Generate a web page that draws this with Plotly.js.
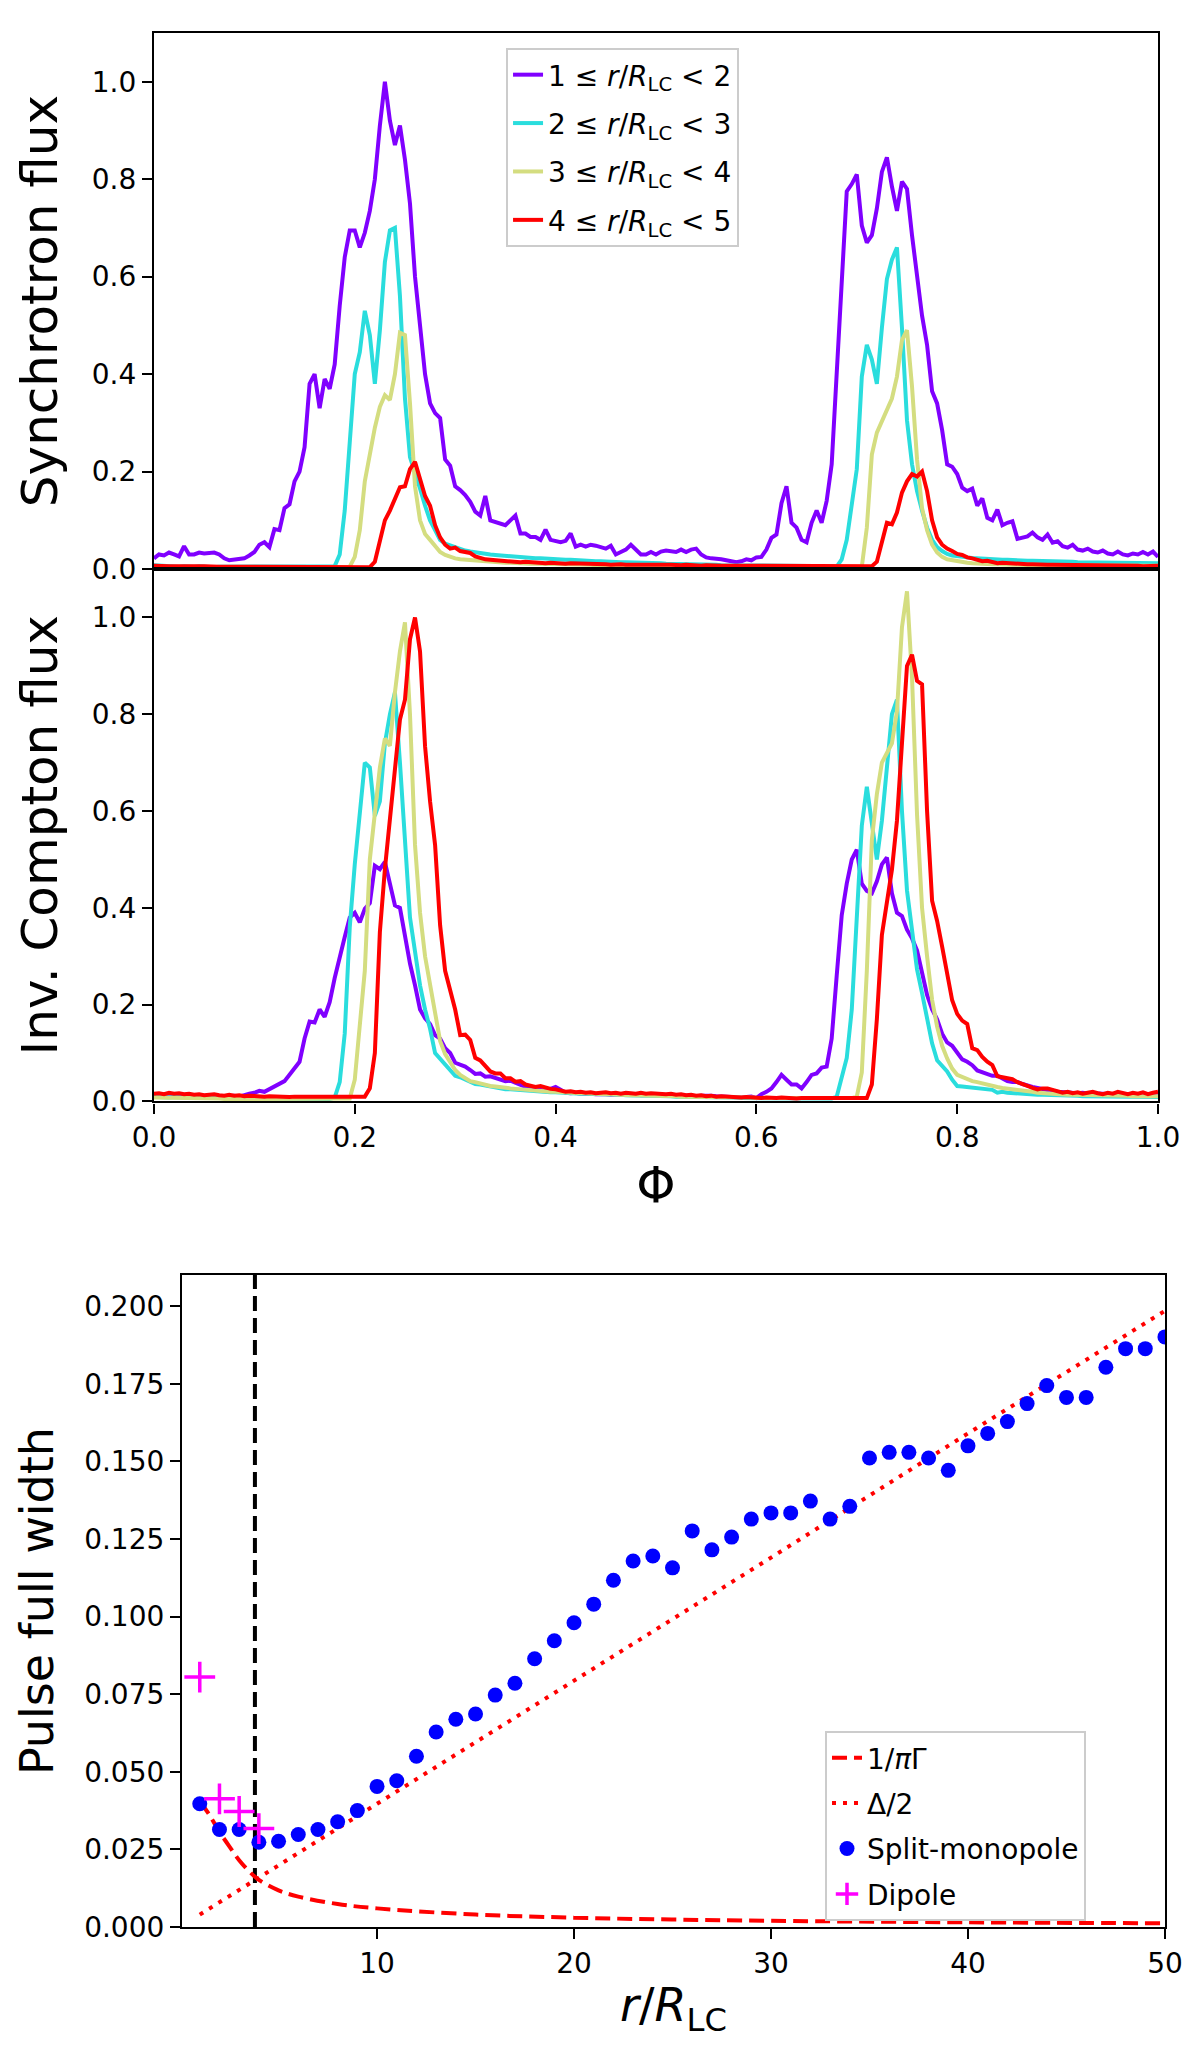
<!DOCTYPE html>
<html>
<head>
<meta charset="utf-8">
<script src="https://cdn.plot.ly/plotly-3.0.1.min.js"></script>
<style>
  html, body { margin: 0; padding: 0; background: #fff; }
  #chart { width: 1200px; height: 2050px; }
</style>
</head>
<body>
<div id="chart"></div>
<script>
// pulse profiles, sampled every 0.005 in phase (0 .. 1)
const PHASE_STEP = 0.005;

// synchrotron flux, one array per radial shell
const syncR1 = [
  0.022,0.03,0.028,0.034,0.03,0.026,0.047,0.03,0.03,0.034,0.032,0.034,0.034,0.03,0.022,0.018,0.02,0.02,0.022,0.028,
  0.035,0.05,0.055,0.045,0.082,0.08,0.125,0.133,0.18,0.2,0.25,0.38,0.40,0.33,0.39,0.37,0.42,0.54,0.64,0.695,
  0.695,0.66,0.69,0.735,0.80,0.91,1.0,0.92,0.87,0.91,0.84,0.75,0.60,0.50,0.40,0.34,0.32,0.31,0.225,0.212,
  0.17,0.162,0.152,0.138,0.118,0.11,0.15,0.1,0.097,0.092,0.09,0.1,0.11,0.073,0.073,0.066,0.066,0.06,0.081,0.06,
  0.058,0.055,0.058,0.073,0.046,0.05,0.046,0.05,0.048,0.045,0.042,0.048,0.03,0.035,0.04,0.05,0.04,0.03,0.03,0.035,
  0.03,0.036,0.038,0.036,0.035,0.04,0.035,0.04,0.042,0.03,0.024,0.022,0.022,0.02,0.018,0.015,0.014,0.016,0.02,0.018,
  0.024,0.025,0.04,0.064,0.071,0.135,0.17,0.095,0.085,0.06,0.055,0.095,0.12,0.095,0.14,0.215,0.405,0.615,0.775,0.79,
  0.81,0.705,0.67,0.685,0.74,0.815,0.845,0.785,0.735,0.795,0.78,0.685,0.595,0.52,0.46,0.365,0.34,0.285,0.215,0.21,
  0.195,0.167,0.16,0.165,0.13,0.145,0.105,0.1,0.122,0.09,0.095,0.098,0.062,0.065,0.067,0.075,0.065,0.06,0.071,0.054,
  0.057,0.047,0.044,0.05,0.04,0.038,0.042,0.036,0.034,0.038,0.032,0.03,0.036,0.03,0.028,0.032,0.03,0.035,0.03,0.036,
  0.025
];
const syncR2 = [
  0.008,0.007,0.006,0.007,0.006,0.005,0.006,0.005,0.005,0.006,0.005,0.005,0.004,0.005,0.005,0.004,0.005,0.004,0.005,0.004,
  0.004,0.005,0.004,0.004,0.005,0.004,0.004,0.005,0.004,0.004,0.005,0.004,0.004,0.005,0.004,0.005,0.006,0.03,0.12,0.26,
  0.40,0.445,0.53,0.48,0.38,0.49,0.63,0.695,0.70,0.56,0.35,0.23,0.20,0.165,0.13,0.1,0.08,0.06,0.052,0.048,
  0.044,0.04,0.038,0.036,0.034,0.032,0.031,0.03,0.029,0.028,0.026,0.025,0.025,0.024,0.023,0.023,0.022,0.022,0.021,0.02,
  0.02,0.02,0.019,0.019,0.018,0.018,0.017,0.017,0.016,0.016,0.015,0.015,0.015,0.014,0.014,0.014,0.013,0.013,0.013,0.012,
  0.012,0.012,0.011,0.011,0.011,0.01,0.01,0.01,0.01,0.009,0.009,0.009,0.009,0.008,0.008,0.008,0.008,0.008,0.007,0.007,
  0.007,0.007,0.007,0.006,0.006,0.006,0.006,0.006,0.006,0.006,0.006,0.006,0.006,0.006,0.006,0.006,0.005,0.02,0.06,0.13,
  0.205,0.395,0.46,0.43,0.38,0.495,0.595,0.635,0.66,0.495,0.305,0.215,0.16,0.12,0.085,0.06,0.045,0.037,0.031,0.028,
  0.026,0.025,0.024,0.023,0.022,0.021,0.021,0.02,0.02,0.019,0.019,0.018,0.018,0.018,0.017,0.017,0.017,0.016,0.016,0.016,
  0.015,0.015,0.015,0.015,0.014,0.014,0.014,0.014,0.014,0.013,0.013,0.013,0.013,0.013,0.013,0.012,0.012,0.012,0.012,0.012,
  0.012
];
const syncR3 = [
  0.004,0.004,0.003,0.004,0.003,0.003,0.004,0.003,0.003,0.003,0.003,0.003,0.003,0.003,0.003,0.003,0.003,0.003,0.003,0.003,
  0.003,0.003,0.003,0.003,0.003,0.003,0.003,0.003,0.003,0.003,0.003,0.003,0.003,0.003,0.003,0.003,0.003,0.003,0.003,0.005,
  0.025,0.08,0.18,0.237,0.29,0.333,0.357,0.347,0.40,0.485,0.48,0.34,0.17,0.1,0.072,0.06,0.047,0.035,0.029,0.025,
  0.022,0.02,0.019,0.018,0.017,0.016,0.015,0.015,0.014,0.014,0.013,0.013,0.012,0.012,0.012,0.011,0.011,0.011,0.01,0.01,
  0.01,0.01,0.01,0.009,0.009,0.009,0.009,0.009,0.008,0.008,0.008,0.008,0.008,0.008,0.007,0.007,0.007,0.007,0.007,0.007,
  0.007,0.007,0.006,0.006,0.006,0.006,0.006,0.006,0.006,0.006,0.005,0.005,0.005,0.005,0.005,0.005,0.005,0.005,0.005,0.005,
  0.005,0.005,0.005,0.005,0.004,0.004,0.004,0.004,0.004,0.004,0.004,0.004,0.004,0.004,0.004,0.004,0.004,0.004,0.004,0.004,
  0.004,0.005,0.085,0.235,0.28,0.305,0.33,0.35,0.395,0.47,0.49,0.375,0.225,0.125,0.08,0.05,0.034,0.025,0.02,0.018,
  0.015,0.014,0.013,0.012,0.011,0.011,0.01,0.01,0.01,0.009,0.009,0.009,0.009,0.008,0.008,0.008,0.008,0.008,0.008,0.007,
  0.007,0.007,0.007,0.007,0.007,0.007,0.007,0.007,0.007,0.007,0.007,0.007,0.007,0.007,0.007,0.007,0.007,0.007,0.007,0.007,
  0.007
];
const syncR4 = [
  0.007,0.006,0.007,0.006,0.006,0.007,0.006,0.006,0.005,0.006,0.006,0.005,0.006,0.005,0.005,0.006,0.005,0.005,0.005,0.005,
  0.005,0.004,0.005,0.004,0.004,0.005,0.004,0.004,0.004,0.004,0.004,0.004,0.004,0.004,0.004,0.004,0.004,0.004,0.004,0.004,
  0.004,0.004,0.004,0.004,0.015,0.06,0.1,0.12,0.145,0.168,0.17,0.205,0.22,0.185,0.15,0.13,0.09,0.065,0.05,0.042,
  0.044,0.037,0.035,0.033,0.026,0.022,0.02,0.019,0.018,0.017,0.016,0.015,0.016,0.014,0.015,0.014,0.013,0.014,0.012,0.013,
  0.012,0.013,0.011,0.012,0.012,0.011,0.01,0.011,0.01,0.011,0.01,0.009,0.01,0.01,0.009,0.01,0.009,0.009,0.01,0.009,
  0.009,0.008,0.009,0.009,0.008,0.008,0.009,0.008,0.008,0.007,0.008,0.007,0.008,0.007,0.007,0.007,0.006,0.007,0.006,0.006,
  0.006,0.006,0.006,0.005,0.006,0.005,0.005,0.005,0.005,0.005,0.005,0.005,0.005,0.005,0.005,0.005,0.005,0.005,0.005,0.005,
  0.005,0.005,0.005,0.006,0.015,0.055,0.095,0.092,0.116,0.157,0.18,0.195,0.19,0.2,0.16,0.1,0.065,0.05,0.042,0.037,
  0.031,0.029,0.024,0.022,0.02,0.016,0.017,0.015,0.012,0.013,0.012,0.011,0.01,0.011,0.01,0.01,0.009,0.01,0.009,0.009,
  0.009,0.008,0.009,0.008,0.008,0.009,0.008,0.008,0.007,0.008,0.007,0.008,0.007,0.007,0.008,0.007,0.007,0.006,0.007,0.007,
  0.007
];

// inverse Compton flux
const icR1 = [
  0.012,0.014,0.012,0.013,0.011,0.012,0.01,0.011,0.012,0.01,0.011,0.01,0.012,0.01,0.011,0.01,0.012,0.01,0.014,0.016,
  0.018,0.022,0.02,0.025,0.03,0.036,0.042,0.055,0.07,0.082,0.13,0.165,0.163,0.19,0.175,0.205,0.255,0.30,0.34,0.38,
  0.39,0.37,0.398,0.41,0.487,0.48,0.495,0.45,0.405,0.40,0.34,0.285,0.24,0.19,0.172,0.16,0.137,0.13,0.11,0.10,
  0.08,0.076,0.072,0.065,0.057,0.058,0.051,0.052,0.048,0.045,0.042,0.043,0.038,0.034,0.03,0.027,0.025,0.024,0.022,0.026,
  0.03,0.024,0.018,0.017,0.018,0.016,0.017,0.016,0.015,0.016,0.015,0.014,0.015,0.014,0.015,0.014,0.015,0.013,0.014,0.014,
  0.014,0.013,0.014,0.013,0.013,0.012,0.013,0.012,0.011,0.012,0.013,0.012,0.011,0.01,0.01,0.009,0.008,0.008,0.009,0.01,
  0.007,0.015,0.02,0.027,0.04,0.055,0.045,0.035,0.035,0.027,0.04,0.055,0.058,0.07,0.072,0.13,0.26,0.385,0.45,0.50,
  0.52,0.45,0.435,0.43,0.455,0.49,0.504,0.43,0.39,0.383,0.355,0.337,0.312,0.263,0.22,0.19,0.17,0.14,0.122,0.115,
  0.1,0.087,0.082,0.075,0.064,0.06,0.055,0.053,0.053,0.048,0.042,0.04,0.04,0.036,0.032,0.03,0.028,0.025,0.022,0.021,
  0.02,0.019,0.02,0.018,0.017,0.018,0.016,0.017,0.016,0.015,0.016,0.015,0.016,0.014,0.015,0.016,0.014,0.015,0.014,0.015,
  0.014
];
const icR2 = [
  0.01,0.009,0.009,0.008,0.009,0.008,0.008,0.008,0.007,0.008,0.007,0.007,0.008,0.007,0.007,0.007,0.006,0.007,0.006,0.006,
  0.006,0.006,0.006,0.006,0.005,0.006,0.005,0.005,0.005,0.005,0.005,0.005,0.005,0.005,0.005,0.005,0.008,0.04,0.14,0.36,
  0.49,0.60,0.70,0.69,0.59,0.62,0.74,0.80,0.845,0.70,0.53,0.38,0.31,0.24,0.19,0.15,0.10,0.088,0.075,0.065,
  0.053,0.05,0.045,0.041,0.036,0.035,0.033,0.031,0.028,0.027,0.025,0.025,0.024,0.023,0.022,0.022,0.021,0.02,0.02,0.019,
  0.019,0.018,0.018,0.017,0.017,0.016,0.016,0.016,0.015,0.015,0.015,0.014,0.014,0.014,0.013,0.013,0.013,0.012,0.012,0.012,
  0.012,0.011,0.011,0.011,0.01,0.01,0.01,0.01,0.009,0.009,0.009,0.009,0.008,0.008,0.008,0.008,0.008,0.007,0.007,0.007,
  0.007,0.007,0.007,0.007,0.006,0.006,0.006,0.006,0.006,0.006,0.006,0.006,0.006,0.006,0.006,0.006,0.01,0.05,0.09,0.19,
  0.38,0.57,0.65,0.58,0.50,0.58,0.70,0.80,0.83,0.60,0.436,0.36,0.273,0.224,0.174,0.12,0.085,0.072,0.062,0.045,
  0.032,0.031,0.03,0.029,0.028,0.027,0.025,0.024,0.018,0.02,0.018,0.017,0.016,0.016,0.015,0.015,0.014,0.014,0.014,0.013,
  0.013,0.013,0.012,0.012,0.012,0.011,0.011,0.011,0.011,0.01,0.01,0.01,0.01,0.01,0.01,0.009,0.009,0.009,0.009,0.009,
  0.009
];
const icR3 = [
  0.008,0.008,0.007,0.008,0.007,0.007,0.007,0.006,0.007,0.006,0.006,0.006,0.006,0.006,0.005,0.006,0.005,0.005,0.005,0.005,
  0.005,0.005,0.005,0.005,0.005,0.005,0.005,0.005,0.005,0.005,0.005,0.005,0.005,0.005,0.005,0.005,0.005,0.005,0.005,0.006,
  0.045,0.15,0.27,0.50,0.60,0.69,0.75,0.735,0.845,0.93,0.99,0.80,0.53,0.39,0.30,0.245,0.18,0.125,0.098,0.08,
  0.065,0.055,0.048,0.042,0.04,0.037,0.034,0.032,0.031,0.029,0.028,0.027,0.026,0.025,0.024,0.023,0.022,0.021,0.021,0.02,
  0.02,0.019,0.019,0.018,0.018,0.017,0.017,0.016,0.016,0.015,0.015,0.015,0.014,0.014,0.014,0.013,0.013,0.013,0.012,0.012,
  0.012,0.012,0.011,0.011,0.011,0.01,0.01,0.01,0.01,0.01,0.009,0.009,0.009,0.009,0.008,0.008,0.008,0.008,0.008,0.008,
  0.007,0.007,0.007,0.007,0.007,0.007,0.007,0.007,0.007,0.007,0.007,0.007,0.007,0.007,0.007,0.007,0.007,0.007,0.007,0.007,
  0.01,0.06,0.27,0.54,0.635,0.70,0.72,0.74,0.806,0.98,1.054,0.877,0.593,0.40,0.30,0.21,0.155,0.115,0.089,0.068,
  0.055,0.05,0.045,0.042,0.04,0.037,0.034,0.032,0.03,0.028,0.027,0.026,0.024,0.022,0.021,0.02,0.018,0.017,0.016,0.016,
  0.015,0.015,0.014,0.014,0.014,0.013,0.013,0.013,0.013,0.012,0.012,0.012,0.012,0.012,0.012,0.011,0.011,0.011,0.011,0.011,
  0.011
];
const icR4 = [
  0.016,0.017,0.015,0.018,0.016,0.017,0.015,0.016,0.014,0.015,0.013,0.014,0.015,0.013,0.012,0.014,0.012,0.013,0.011,0.012,
  0.011,0.012,0.01,0.011,0.01,0.011,0.01,0.009,0.01,0.01,0.009,0.01,0.01,0.009,0.01,0.009,0.01,0.009,0.009,0.009,
  0.009,0.009,0.01,0.027,0.10,0.35,0.48,0.583,0.69,0.789,0.83,0.955,1.0,0.93,0.734,0.62,0.53,0.364,0.27,0.23,
  0.19,0.137,0.138,0.127,0.09,0.085,0.072,0.062,0.058,0.058,0.048,0.048,0.041,0.042,0.035,0.033,0.03,0.032,0.028,0.026,
  0.025,0.022,0.02,0.021,0.019,0.02,0.018,0.019,0.017,0.018,0.019,0.017,0.018,0.016,0.018,0.017,0.016,0.018,0.016,0.017,
  0.016,0.017,0.015,0.016,0.014,0.015,0.013,0.014,0.012,0.013,0.011,0.012,0.01,0.011,0.01,0.009,0.01,0.008,0.009,0.008,
  0.008,0.007,0.008,0.007,0.007,0.008,0.007,0.007,0.006,0.007,0.007,0.006,0.007,0.006,0.007,0.006,0.007,0.006,0.006,0.007,
  0.007,0.007,0.007,0.035,0.17,0.344,0.41,0.479,0.58,0.75,0.90,0.923,0.869,0.862,0.60,0.415,0.373,0.32,0.26,0.209,
  0.181,0.167,0.16,0.11,0.106,0.092,0.082,0.075,0.052,0.05,0.05,0.046,0.04,0.035,0.032,0.028,0.025,0.027,0.027,0.024,
  0.021,0.018,0.02,0.017,0.019,0.016,0.018,0.02,0.017,0.015,0.018,0.016,0.02,0.017,0.015,0.018,0.016,0.019,0.015,0.018,
  0.02
];

const shellLabels = [
  '1 ≤ <i>r</i>/<i>R</i><sub>LC</sub> &lt; 2',
  '2 ≤ <i>r</i>/<i>R</i><sub>LC</sub> &lt; 3',
  '3 ≤ <i>r</i>/<i>R</i><sub>LC</sub> &lt; 4',
  '4 ≤ <i>r</i>/<i>R</i><sub>LC</sub> &lt; 5'
];
const shellColors = ['#8000ff', '#2adddd', '#d4dd80', '#ff0000'];

// pulse width vs radius
const radius = [1,2,3,4,5,6,7,8,9,10,11,12,13,14,15,16,17,18,19,20,21,22,23,24,25,
  26,27,28,29,30,31,32,33,34,35,36,37,38,39,40,41,42,43,44,45,46,47,48,49,50];
const widthSplit = [0.0397,0.0314,0.0314,0.0273,0.0276,0.0298,0.0314,0.0339,0.0375,0.0453,
  0.0471,0.055,0.0628,0.0669,0.0686,0.0747,0.0785,0.0864,0.0922,0.098,
  0.104,0.1117,0.1179,0.1195,0.1157,0.1276,0.1215,0.1256,0.1314,0.1334,
  0.1334,0.1372,0.1314,0.1355,0.1511,0.1529,0.1529,0.1511,0.1471,0.155,
  0.159,0.1628,0.1686,0.1744,0.1706,0.1706,0.1803,0.1863,0.1863,0.1901];
const dipoleR = [1, 2, 3, 4];
const widthDipole = [0.0805, 0.0413, 0.0372, 0.0317];
const gammaR = [1,1.5,2,2.5,3,3.5,4,5,6,8,10,15,20,25,30,40,50];
const widthGamma = [0.0405,0.036,0.0306,0.026,0.0215,0.018,0.0152,0.0118,0.0098,0.0074,
  0.006,0.004,0.003,0.0024,0.002,0.0015,0.0012];
const deltaR = [1, 10, 20, 30, 40, 50];
const widthDelta = [0.004, 0.0397, 0.079, 0.119, 0.159, 0.1985];
const lightCylinderMark = 3.8;

const phase = syncR1.map((_, i) => i * PHASE_STEP);

const FONT = 'DejaVu Sans, sans-serif';
const tickFont = { family: FONT, size: 28, color: '#000' };

function frame(extra) {
  return Object.assign({
    showline: true, mirror: true, linecolor: '#000', linewidth: 2.2,
    ticks: 'outside', ticklen: 10, tickwidth: 2.2, tickcolor: '#000',
    showgrid: false, zeroline: false, tickfont: tickFont, automargin: false
  }, extra);
}

const traces = [];
[syncR1, syncR2, syncR3, syncR4].forEach((ys, k) => {
  traces.push({
    x: phase, y: ys, xaxis: 'x', yaxis: 'y', type: 'scatter', mode: 'lines',
    name: shellLabels[k], legendgroup: 'g' + k,
    line: { color: shellColors[k], width: 4 }
  });
});
[icR1, icR2, icR3, icR4].forEach((ys, k) => {
  traces.push({
    x: phase, y: ys, xaxis: 'x2', yaxis: 'y2', type: 'scatter', mode: 'lines',
    showlegend: false, line: { color: shellColors[k], width: 4 }
  });
});

traces.push({
  x: [lightCylinderMark, lightCylinderMark], y: [0, 0.21], xaxis: 'x3', yaxis: 'y3',
  mode: 'lines', showlegend: false, line: { color: '#000', width: 4, dash: '15px,7px' }
});
traces.push({
  x: gammaR, y: widthGamma, xaxis: 'x3', yaxis: 'y3', mode: 'lines', name: '1/<i>π</i>Γ',
  legend: 'legend2', legendgroup: 'b0',
  line: { color: '#ff0000', width: 4, dash: '15px,7px', shape: 'spline' }
});
traces.push({
  x: deltaR, y: widthDelta, xaxis: 'x3', yaxis: 'y3', mode: 'lines', name: 'Δ/2',
  legend: 'legend2', legendgroup: 'b1',
  line: { color: '#ff0000', width: 4, dash: '4px,7px' }
});
traces.push({
  x: radius, y: widthSplit, xaxis: 'x3', yaxis: 'y3', mode: 'markers', name: 'Split-monopole',
  legend: 'legend2', legendgroup: 'b2',
  marker: { color: '#0000ff', size: 15 }
});
traces.push({
  x: dipoleR, y: widthDipole, xaxis: 'x3', yaxis: 'y3', mode: 'markers', name: 'Dipole',
  legend: 'legend2', legendgroup: 'b3',
  marker: { color: '#ff00ff', size: 22, symbol: 'cross-thin', line: { color: '#ff00ff', width: 3.5 } }
});

const layout = {
  width: 1200, height: 2050,
  margin: { l: 0, r: 0, t: 0, b: 0 },
  paper_bgcolor: '#fff', plot_bgcolor: '#fff',
  font: { family: FONT, color: '#000' },
  xaxis: frame({ domain: [0.1283, 0.965], anchor: 'y', range: [0, 1], showticklabels: false, ticks: '' }),
  yaxis: frame({
    domain: [0.7224, 0.9839], anchor: 'x', range: [0, 1.1],
    tickvals: [0, 0.2, 0.4, 0.6, 0.8, 1.0], tickformat: '.1f',
    title: { text: 'Synchrotron flux', font: { family: FONT, size: 50, color: '#000' }, standoff: 18 }
  }),
  xaxis2: frame({
    domain: [0.1283, 0.965], anchor: 'y2', range: [0, 1],
    tickvals: [0, 0.2, 0.4, 0.6, 0.8, 1.0], tickformat: '.1f',
    title: { text: 'Φ', font: { family: FONT, size: 50, color: '#000' }, standoff: 14 }
  }),
  yaxis2: frame({
    domain: [0.4627, 0.7224], anchor: 'x2', range: [0, 1.1],
    tickvals: [0, 0.2, 0.4, 0.6, 0.8, 1.0], tickformat: '.1f',
    title: { text: 'Inv. Compton flux', font: { family: FONT, size: 50, color: '#000' }, standoff: 18 }
  }),
  xaxis3: frame({
    domain: [0.1517, 0.9708], anchor: 'y3', range: [0.1, 50],
    tickvals: [10, 20, 30, 40, 50],
    title: { text: '<i>r</i>/<i>R</i><sub>LC</sub>', font: { family: FONT, size: 46, color: '#000' }, standoff: 10 }
  }),
  yaxis3: frame({
    domain: [0.06, 0.378], anchor: 'x3', range: [0, 0.21],
    tickvals: [0, 0.025, 0.05, 0.075, 0.1, 0.125, 0.15, 0.175, 0.2], tickformat: '.3f',
    title: { text: 'Pulse full width', font: { family: FONT, size: 46, color: '#000' }, standoff: 16 }
  }),
  legend: {
    x: 0.4217, y: 0.9766, xanchor: 'left', yanchor: 'top',
    bgcolor: 'rgba(255,255,255,0.85)', bordercolor: '#cccccc', borderwidth: 2,
    font: { family: FONT, size: 28, color: '#000' }, tracegroupgap: 9
  },
  legend2: {
    x: 0.6875, y: 0.1556, xanchor: 'left', yanchor: 'top',
    bgcolor: 'rgba(255,255,255,0.85)', bordercolor: '#cccccc', borderwidth: 2,
    font: { family: FONT, size: 28, color: '#000' }, tracegroupgap: 6
  },
  showlegend: true
};

Plotly.newPlot('chart', traces, layout, { displayModeBar: false, responsive: false });
</script>
</body>
</html>
